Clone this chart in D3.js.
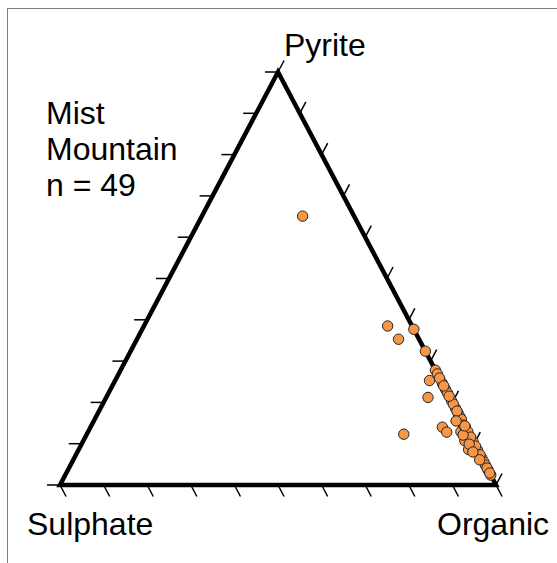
<!DOCTYPE html>
<html>
<head>
<meta charset="utf-8">
<script src="https://cdn.jsdelivr.net/npm/d3@7"></script>
<style>
  html, body { margin: 0; padding: 0; background: #fff; }
  svg { display: block; }
  text { font-family: "Liberation Sans", Arial, sans-serif; fill: #000; }
</style>
</head>
<body>
<script>
// Vertex labels of the ternary diagram
const vertexLabels = ["Pyrite", "Sulphate", "Organic"];
const titleLines = ["Mist", "Mountain", "n = 49"];
const tickValues = [0, 10, 20, 30, 40, 50, 60, 70, 80, 90, 100];

// Sulphur forms (%) for each sample
const pyrite = [65.1, 38.5, 35.3, 37.7, 32.4, 27.8, 26.9, 25.3, 24.6, 23.2,
                22.3, 21.2, 20.4, 18.6, 17.4, 16.4, 15.9, 14.0, 14.0, 12.8,
                12.3, 12.9, 12.9, 10.7, 10.5, 8.6, 8.5, 6.5, 5.6, 4.8,
                2.4, 3.6, 14.5, 11.6, 9.4, 7.3, 19.6, 21.5, 25.9, 24.0,
                12.1, 9.9, 8.0, 6.1, 4.1, 2.9, 17.9, 14.3, 15.5];
const sulphate = [11.8, 5.6, 4.7, 0.0, 0.0, 0.0, 0.0, 2.6, 0.0, 0.0,
                  0.0, 5.0, 0.0, 0.0, 0.0, 0.0, 0.0, 0.0, 5.3, 4.9,
                  15.0, 1.6, 0.0, 1.8, 0.0, 2.0, 0.0, 0.0, 0.0, 0.0,
                  0.0, 0.0, 0.2, 0.0, 0.0, 0.0, 0.0, 0.0, 0.0, 0.0,
                  1.5, 1.2, 1.3, 0.7, 0.0, 0.0, 0.0, 0.0, 1.4];
const organic = [23.1, 55.9, 60.0, 62.3, 67.6, 72.2, 73.1, 72.1, 75.4, 76.8,
                 77.7, 73.8, 79.6, 81.4, 82.6, 83.6, 84.1, 86.0, 80.7, 82.3,
                 72.7, 85.5, 87.1, 87.5, 89.5, 89.4, 91.5, 93.5, 94.4, 95.2,
                 97.6, 96.4, 85.3, 88.4, 90.6, 92.7, 80.4, 78.5, 74.1, 76.0,
                 86.4, 88.9, 90.7, 93.2, 95.9, 97.1, 82.1, 85.7, 83.1];

const W = 557, H = 563;
const svg = d3.select("body").append("svg").attr("width", W).attr("height", H);

// Panel frame
svg.append("rect")
  .attr("x", 7.5).attr("y", 8.5).attr("width", 700).attr("height", 700)
  .attr("fill", "none").attr("stroke", "#808080").attr("stroke-width", 1);

// Scales: horizontal position from (organic + pyrite/2), vertical from pyrite
const xs = d3.scaleLinear().domain([0, 100]).range([60, 496]);
const ys = d3.scaleLinear().domain([0, 100]).range([485, 72]);
const proj = (p, s, o) => {
  const t = p + s + o;
  const P = 100 * p / t, O = 100 * o / t;
  return [xs(O + P / 2), ys(P)];
};

const apex = proj(100, 0, 0), cornerL = proj(0, 100, 0), cornerR = proj(0, 0, 100);

// Tick marks: each edge gets 11 ticks pointing outward, parallel to the adjacent edge
const unit = (a, b) => { const dx = b[0] - a[0], dy = b[1] - a[1], l = Math.hypot(dx, dy); return [dx / l, dy / l]; };
const tickLen = 13;
const dirBottom = unit(apex, cornerR);        // "\" ticks under the base
const dirLeft = unit(cornerR, cornerL);       // horizontal ticks on the left side
const dirRight = unit(cornerL, apex);         // "/" ticks on the right side

const ticks = [];
tickValues.forEach(v => {
  const pb = proj(0, 100 - v, v);
  ticks.push([pb, [pb[0] + dirBottom[0] * tickLen, pb[1] + dirBottom[1] * tickLen]]);
  const pl = proj(v, 100 - v, 0);
  ticks.push([pl, [pl[0] + dirLeft[0] * tickLen, pl[1] + dirLeft[1] * tickLen]]);
  const pr = proj(v, 0, 100 - v);
  ticks.push([pr, [pr[0] + dirRight[0] * tickLen, pr[1] + dirRight[1] * tickLen]]);
});

svg.append("g").selectAll("line").data(ticks).join("line")
  .attr("x1", d => d[0][0]).attr("y1", d => d[0][1])
  .attr("x2", d => d[1][0]).attr("y2", d => d[1][1])
  .attr("stroke", "#000").attr("stroke-width", 1.5);

// Triangle outline
svg.append("path")
  .attr("d", d3.line()([apex, cornerL, cornerR]) + "Z")
  .attr("fill", "none").attr("stroke", "#000").attr("stroke-width", 4.5)
  .attr("stroke-linejoin", "miter");

// Samples
const samples = pyrite.map((p, i) => proj(p, sulphate[i], organic[i]));
svg.append("g").selectAll("circle").data(samples).join("circle")
  .attr("cx", d => d[0]).attr("cy", d => d[1]).attr("r", 5.2)
  .attr("fill", "#F79646").attr("stroke", "#262626").attr("stroke-width", 1);

// Vertex labels
const fs = 32;
svg.append("text").attr("x", 284).attr("y", 56).attr("font-size", fs).text(vertexLabels[0]);
svg.append("text").attr("x", 27).attr("y", 535).attr("font-size", fs).text(vertexLabels[1]);
svg.append("text").attr("x", 437).attr("y", 535).attr("font-size", fs).text(vertexLabels[2]);

// Group annotation
svg.append("g").selectAll("text").data(titleLines).join("text")
  .attr("x", 46).attr("y", (d, i) => 124 + i * 36)
  .attr("font-size", fs).text(d => d);
</script>
</body>
</html>
